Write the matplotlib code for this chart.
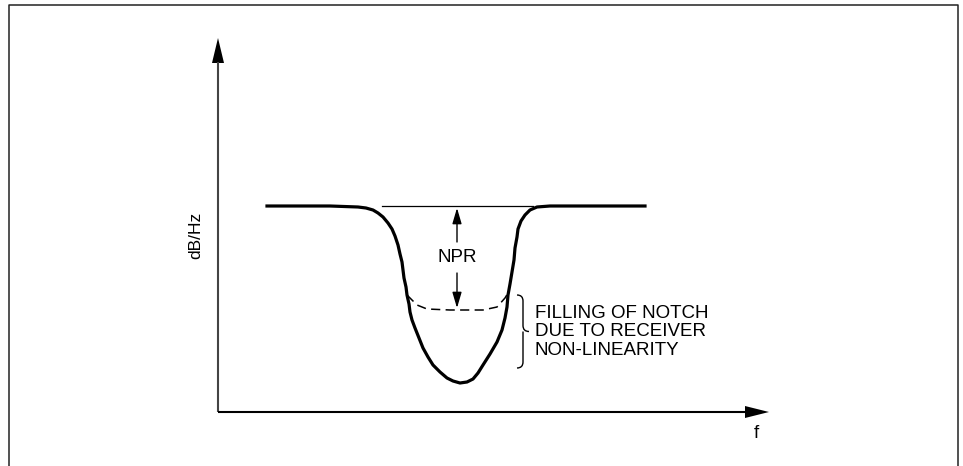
import numpy as np
import matplotlib
matplotlib.use("Agg")
import matplotlib.pyplot as plt
from matplotlib.path import Path
from matplotlib.patches import PathPatch

plt.rcParams['font.family'] = ['Liberation Sans', 'DejaVu Sans']

# Spectrum with the notch (frequency, level), schematic units
spec_f = [49, 112, 140, 148, 155, 160, 165, 170, 174, 177, 180, 182, 184, 185,
          186, 188, 189, 191, 192, 194, 197, 201, 205, 210, 215, 222, 229, 235,
          242, 249, 255, 260, 265, 272, 279, 284, 287, 289, 290, 292, 294, 296,
          297, 299, 300, 303, 307, 312, 319, 332, 427]
spec_lvl = [206, 206, 205, 204, 202, 199, 195, 189, 183, 176, 167, 158, 150, 142,
            134, 125, 117, 108, 100, 92, 84, 74, 64, 55, 47, 40, 34, 31,
            29, 30, 33, 39, 47, 58, 70, 82, 94, 105, 117, 128, 140, 152,
            164, 175, 183, 191, 197, 202, 205, 206, 206]

# Notch floor raised by receiver non-linearity
fill_f = [189, 192, 199, 209, 232, 265, 279, 287, 290]
fill_lvl = [117, 114, 107, 103, 102, 102, 105, 114, 119]

# reference level line and NPR span
ref_f = [164, 315]
ref_lvl = 206
npr_f = 239
npr_top, npr_bottom = 204, 104

fig = plt.figure(figsize=(9.63, 4.66), dpi=100)
ax = fig.add_axes([0, 0, 1, 1])
ax.set_xlim(-218, 745)
ax.set_ylim(-54, 412)
ax.axis('off')

# outer frame (open at the bottom)
ax.plot([-209, -209, 740, 740], [-70, 407, 407, -70], color='#222222', lw=1.1,
        clip_on=False)

# axes with arrows
ax.plot([0, 0], [0, 350], color='#444444', lw=1.5, solid_capstyle='butt')
ax.arrow(0, 349, 0, 25, width=0, head_width=12, head_length=25,
         length_includes_head=True, color='black', lw=0)
ax.plot([0, 528], [0, 0], color='black', lw=1.5, solid_capstyle='butt')
ax.arrow(527, 0, 24, 0, width=0, head_width=12, head_length=24,
         length_includes_head=True, color='black', lw=0)

ax.plot(spec_f, spec_lvl, color='black', lw=2.3, solid_joinstyle='round')
ax.plot(fill_f, fill_lvl, color='black', lw=1.1, dashes=(6, 3.5))
ax.plot(ref_f, [ref_lvl, ref_lvl], color='black', lw=0.9)

arrow_kw = dict(arrowstyle='-|>,head_length=0.95,head_width=0.28',
                mutation_scale=10, color='black', lw=1.0, shrinkA=0, shrinkB=0)
ax.annotate('', xy=(npr_f, npr_top), xytext=(npr_f, 170), arrowprops=arrow_kw)
ax.annotate('', xy=(npr_f, npr_bottom), xytext=(npr_f, 139), arrowprops=arrow_kw)
ax.text(npr_f, 154, 'NPR', ha='center', va='center', fontsize=13.5)

# curly brace "}" next to the filled part of the notch
bx, bw, btop, bbot = 299, 12, 117, 44
bmid = (btop + bbot) / 2
r = 6
verts = [(bx, btop), (bx + bw / 2, btop), (bx + bw / 2, btop - r),
         (bx + bw / 2, bmid + r),
         (bx + bw / 2, bmid), (bx + bw, bmid),
         (bx + bw / 2, bmid), (bx + bw / 2, bmid - r),
         (bx + bw / 2, bbot + r),
         (bx + bw / 2, bbot), (bx, bbot)]
codes = [Path.MOVETO, Path.CURVE3, Path.CURVE3, Path.LINETO,
         Path.CURVE3, Path.CURVE3, Path.MOVETO, Path.CURVE3, Path.LINETO,
         Path.CURVE3, Path.CURVE3]
ax.add_patch(PathPatch(Path(verts, codes), fill=False, lw=1.0, color='black'))

ax.text(317, 80, 'FILLING OF NOTCH\nDUE TO RECEIVER\nNON-LINEARITY',
        ha='left', va='center', fontsize=13.5, linespacing=1.08)

ax.text(-22, 177, 'dB/Hz', rotation=90, ha='center', va='center', fontsize=12.5)
ax.text(538, -21, 'f', ha='center', va='center', fontsize=13.5)

fig.savefig('out.png', dpi=100)
